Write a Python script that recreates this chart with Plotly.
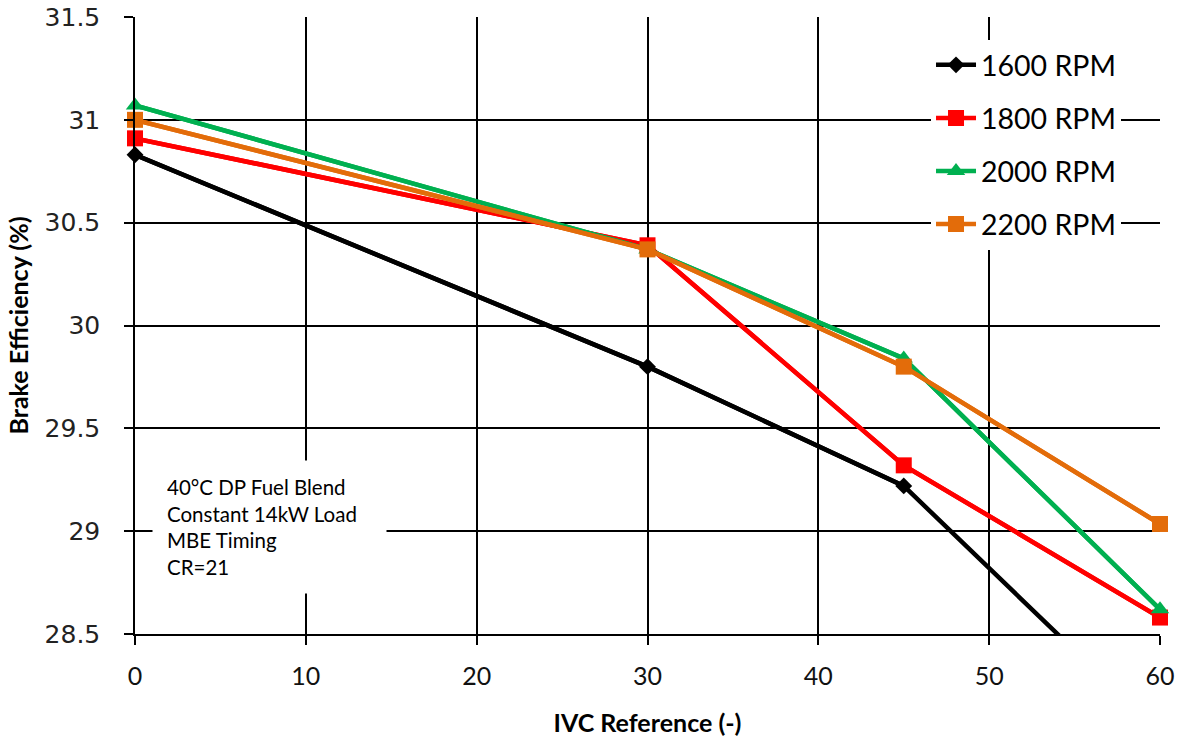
import plotly.graph_objects as go

x_vals = [0, 30, 45, 60]
rpm_1600 = [30.83, 29.80, 29.22, 28.02]
rpm_1800 = [30.91, 30.39, 29.32, 28.58]
rpm_2000 = [31.07, 30.37, 29.84, 28.62]
rpm_2200 = [31.00, 30.37, 29.80, 29.035]

y_range = [28.5, 31.5]

series = [
    ("1600 RPM", rpm_1600, "#000000", "diamond", 13),
    ("1800 RPM", rpm_1800, "#FF0000", "square", 16),
    ("2000 RPM", rpm_2000, "#00B050", "triangle-up", 16),
    ("2200 RPM", rpm_2200, "#E36C0A", "square", 16),
]

font_fam = "Lato, 'Open Sans', sans-serif"
ytick_font = "'DejaVu Sans', Verdana, sans-serif"

fig = go.Figure()
for i, (name, ys, col, sym, sz) in enumerate(series):
    # full line, clipped to the plot area
    fig.add_trace(go.Scatter(
        x=x_vals, y=ys, name=name, mode="lines",
        line=dict(color=col, width=4.5),
        legendgroup=f"g{i}", showlegend=False, hoverinfo="skip",
    ))
    # markers for points inside the axis range, drawn unclipped
    xin = [x for x, y in zip(x_vals, ys) if y_range[0] <= y <= y_range[1]]
    yin = [y for y in ys if y_range[0] <= y <= y_range[1]]
    fig.add_trace(go.Scatter(
        x=xin, y=yin, name=name, mode="lines+markers",
        line=dict(color=col, width=4.5),
        marker=dict(symbol=sym, size=sz, color=col, line=dict(width=0)),
        legendgroup=f"g{i}", cliponaxis=False,
    ))

fig.add_annotation(
    x=0, y=28.5, xref="x", yref="y", xanchor="left", yanchor="bottom",
    xshift=17, yshift=40, width=205,
    text="40°C DP Fuel Blend<br>Constant 14kW Load<br>MBE Timing<br>CR=21",
    showarrow=False, align="left", bgcolor="white",
    font=dict(family=font_fam, size=20.5, color="#000"),
    borderpad=14,
)

fig.update_layout(
    width=1182, height=740,
    margin=dict(l=135, r=22, t=17, b=106),
    paper_bgcolor="white", plot_bgcolor="white",
    showlegend=True,
    legend=dict(
        x=0.7766, y=0.963, xanchor="left", yanchor="top",
        bgcolor="white", font=dict(family=font_fam, size=28.5, color="#000"),
        tracegroupgap=13, itemwidth=40,
    ),
    xaxis=dict(
        range=[0, 60], dtick=10, showgrid=True, gridcolor="#000", gridwidth=1.5,
        showline=True, linecolor="#000", linewidth=1.5, mirror=False,
        ticks="outside", ticklen=9, tickcolor="#000", tickwidth=1.5,
        tickfont=dict(family=font_fam, size=25, color="#111"),
        ticklabelstandoff=10, automargin=False,
        zeroline=False,
        title=dict(text="<b>IVC Reference (-)</b>", font=dict(family=font_fam, size=25, color="#000"), standoff=26),
    ),
    yaxis=dict(
        range=y_range, dtick=0.5, showgrid=True, gridcolor="#000", gridwidth=1.5,
        showline=True, linecolor="#000", linewidth=1.5,
        ticks="outside", ticklen=9, tickcolor="#000", tickwidth=1.5,
        tickfont=dict(family=ytick_font, size=25, color="#222"),
        ticklabelstandoff=19, automargin=False,
        zeroline=False,
        title=dict(text="<b>Brake Efficiency (%)</b>", font=dict(family=font_fam, size=25, color="#000"), standoff=9),
    ),
)

fig.write_html("out.html")
